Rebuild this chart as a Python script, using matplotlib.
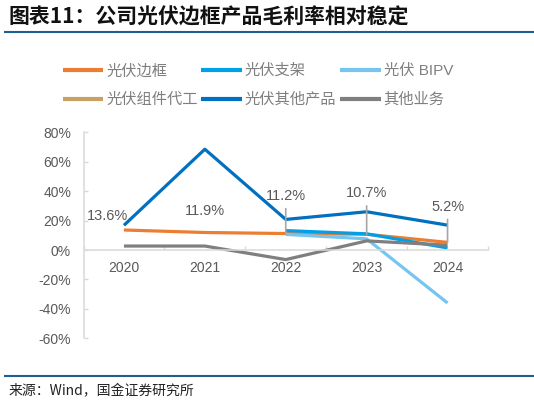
import numpy as np
import matplotlib
matplotlib.use("Agg")
import matplotlib.pyplot as plt

plt.rcParams['font.family'] = ['Liberation Sans', 'Noto Sans CJK SC', 'DejaVu Sans']

# gross margin by segment, %
years = ['2020', '2021', '2022', '2023', '2024']
frame = [13.6, 11.9, 11.2, 10.7, 5.2]            # 光伏边框
bracket = [np.nan, np.nan, 13.2, 11.0, 1.4]     # 光伏支架
bipv = [np.nan, np.nan, 10.6, 7.6, -36.0]       # 光伏 BIPV
module_oem = [np.nan] * 5                       # 光伏组件代工 (not visible)
pv_other = [16.8, 68.5, 20.8, 26.0, 16.9]        # 光伏其他产品
other_biz = [2.7, 2.7, -6.5, 6.2, 3.3]           # 其他业务

names = ['光伏边框', '光伏支架', '光伏 BIPV', '光伏组件代工', '光伏其他产品', '其他业务']
series = [frame, bracket, bipv, module_oem, pv_other, other_biz]
colors = ['#ED7D31', '#00A0E9', '#75C5F0', '#C9A063', '#0070C0', '#7F7F7F']

# data label offsets in points (layout only)
label_off = [(-12, 10), (0, 15.5), (0, 27), (0, 29.5), (0, 25.6)]
leader = [False, False, True, True, True]

fig = plt.figure(figsize=(5.34, 4.04), dpi=100)
ax = fig.add_axes([83.5 / 534, 1 - 338.3 / 404, 404.5 / 534, 206 / 404])

x = np.arange(len(years))
handles = []
for vals, name, c in zip(series, names, colors):
    h, = ax.plot(x, vals, color=c, lw=2.3, label=name, solid_capstyle='butt')
    handles.append(h)

for i, v in enumerate(frame):
    arrow = dict(arrowstyle='-', color='#A6A6A6', lw=1.2, shrinkB=0) if leader[i] else None
    ax.annotate(f'{v:.1f}%', xy=(i, v), xytext=label_off[i], textcoords='offset points',
                ha='center', va='center', fontsize=10.5, color='#595959', arrowprops=arrow)

ax.set_xlim(-0.5, len(years) - 0.5)
ax.set_ylim(-60, 80)
ax.set_yticks(range(-60, 81, 20))
ax.set_yticklabels([f'{t}%' for t in range(-60, 81, 20)])
ax.set_xticks(x)
ax.set_xticklabels(years)
ax.set_xticks(np.arange(-0.5, len(years)), minor=True)

for s in ['top', 'right']:
    ax.spines[s].set_visible(False)
ax.spines['bottom'].set_position(('data', 0))
for s in ['left', 'bottom']:
    ax.spines[s].set_color('#D9D9D9')
    ax.spines[s].set_linewidth(1.1)

ax.tick_params(axis='y', direction='in', length=3, width=1, color='#D9D9D9',
               labelsize=10, labelcolor='#595959', pad=9)
ax.tick_params(axis='x', which='major', length=0, labelsize=10, labelcolor='#595959', pad=8)
ax.tick_params(axis='x', which='minor', direction='in', length=3, width=1, color='#D9D9D9')

order = [0, 3, 1, 4, 2, 5]
leg = fig.legend([handles[i] for i in order], [names[i] for i in order], ncol=3,
                 loc='upper left', bbox_to_anchor=(62.7 / 534, 1 - 64 / 404),
                 frameon=False, fontsize=11, handlelength=2.66, handletextpad=0.18,
                 columnspacing=0.25, labelspacing=0.95, borderpad=0, borderaxespad=0)
for t in leg.get_texts():
    t.set_color('#7F7F7F')
for lh in leg.get_lines():
    lh.set_linewidth(3)

# header / footer
fig.text(8.5 / 534, 1 - 17 / 404, '图表11：公司光伏边框产品毛利率相对稳定', fontsize=15,
         fontweight='bold', family=['Noto Sans CJK SC'], va='center', ha='left', color='#111111')
fig.add_artist(plt.Line2D([5 / 534, 1], [1 - 32.3 / 404] * 2, color='#1F5F8F', lw=1.5))
fig.add_artist(plt.Line2D([5 / 534, 1], [1 - 376 / 404] * 2, color='#1F5F8F', lw=1.5))
fig.text(8.5 / 534, 1 - 391 / 404, '来源：Wind，国金证券研究所', fontsize=10,
         family=['Noto Sans CJK SC'], va='center', ha='left', color='#222222')

fig.savefig('out.png', dpi=100)
